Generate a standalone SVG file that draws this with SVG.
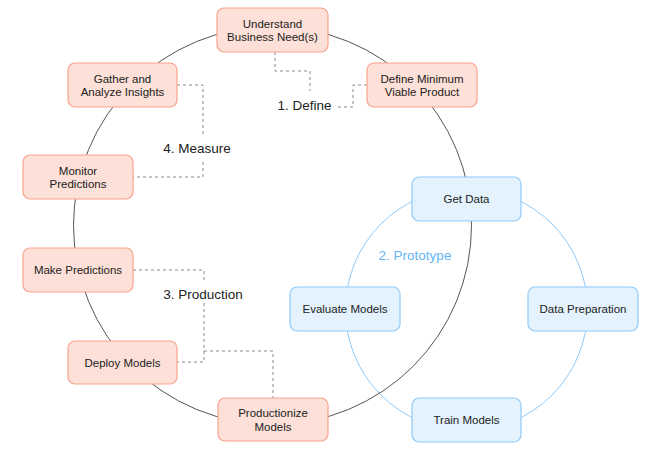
<svg xmlns="http://www.w3.org/2000/svg" width="650" height="456" viewBox="0 0 650 456">
<style>
text{font-family:"Liberation Sans",Arial,sans-serif;fill:#222;}
.nt{font-size:11.5px;text-anchor:middle;}
.lbl{font-size:13.5px;text-anchor:middle;}
.o rect{fill:#fde0d7;stroke:#f9a28c;stroke-width:1.2;}
.b rect{fill:#e3f2fd;stroke:#90caf9;stroke-width:1.2;}
.dash{fill:none;stroke:#888;stroke-width:1;stroke-dasharray:3,3;}
</style>
<rect width="650" height="456" fill="#fff"/>
<g id="connectors">
<circle cx="466.5" cy="309.5" r="121" fill="none" stroke="#90caf9" stroke-width="1"/>
<circle cx="272.5" cy="225.5" r="199" fill="none" stroke="#555" stroke-width="1"/>
<polyline class="dash" points="275,52 275,71 310,71 310,91"/>
<polyline class="dash" points="338,107 353,107 353,85 367,85"/>
<polyline class="dash" points="177,85 203,85 203,137"/>
<polyline class="dash" points="203,162 203,177 133,177"/>
<polyline class="dash" points="133,270 204,270 204,283"/>
<polyline class="dash" points="204,303 204,362 177,362"/>
<polyline class="dash" points="204,351 273,351 273,398"/>
</g>
<g id="labels">
<text class="lbl" x="304.5" y="110">1. Define</text>
<text class="lbl" x="197" y="153">4. Measure</text>
<text class="lbl" x="203" y="299">3. Production</text>
<text class="lbl" x="415" y="260" style="fill:#64b5f6">2. Prototype</text>
</g>
<g id="understand" class="o"><rect x="217" y="8" width="111" height="44" rx="7"/><text class="nt" x="272.5" y="27.5">Understand</text><text class="nt" x="272.5" y="41">Business Need(s)</text></g>
<g id="define-mvp" class="o"><rect x="367" y="63" width="110" height="44" rx="7"/><text class="nt" x="422" y="82.5">Define Minimum</text><text class="nt" x="422" y="96">Viable Product</text></g>
<g id="gather" class="o"><rect x="68" y="63" width="109" height="44" rx="7"/><text class="nt" x="122.5" y="82.5">Gather and</text><text class="nt" x="122.5" y="96">Analyze Insights</text></g>
<g id="monitor" class="o"><rect x="23" y="155" width="110" height="44" rx="7"/><text class="nt" x="78" y="174.5">Monitor</text><text class="nt" x="78" y="188">Predictions</text></g>
<g id="make-predictions" class="o"><rect x="23" y="248" width="110" height="44" rx="7"/><text class="nt" x="78" y="274">Make Predictions</text></g>
<g id="deploy" class="o"><rect x="68" y="341" width="109" height="43" rx="7"/><text class="nt" x="122.5" y="366.5">Deploy Models</text></g>
<g id="productionize" class="o"><rect x="218" y="398" width="110" height="43" rx="7"/><text class="nt" x="273" y="417">Productionize</text><text class="nt" x="273" y="430.5">Models</text></g>
<g id="get-data" class="b"><rect x="412" y="177" width="109" height="44" rx="7"/><text class="nt" x="466.5" y="203">Get Data</text></g>
<g id="evaluate" class="b"><rect x="290" y="287" width="110" height="44" rx="7"/><text class="nt" x="345" y="313">Evaluate Models</text></g>
<g id="data-prep" class="b"><rect x="528" y="287" width="110" height="44" rx="7"/><text class="nt" x="583" y="313">Data Preparation</text></g>
<g id="train" class="b"><rect x="412" y="398" width="109" height="44" rx="7"/><text class="nt" x="466.5" y="424">Train Models</text></g>
</svg>
